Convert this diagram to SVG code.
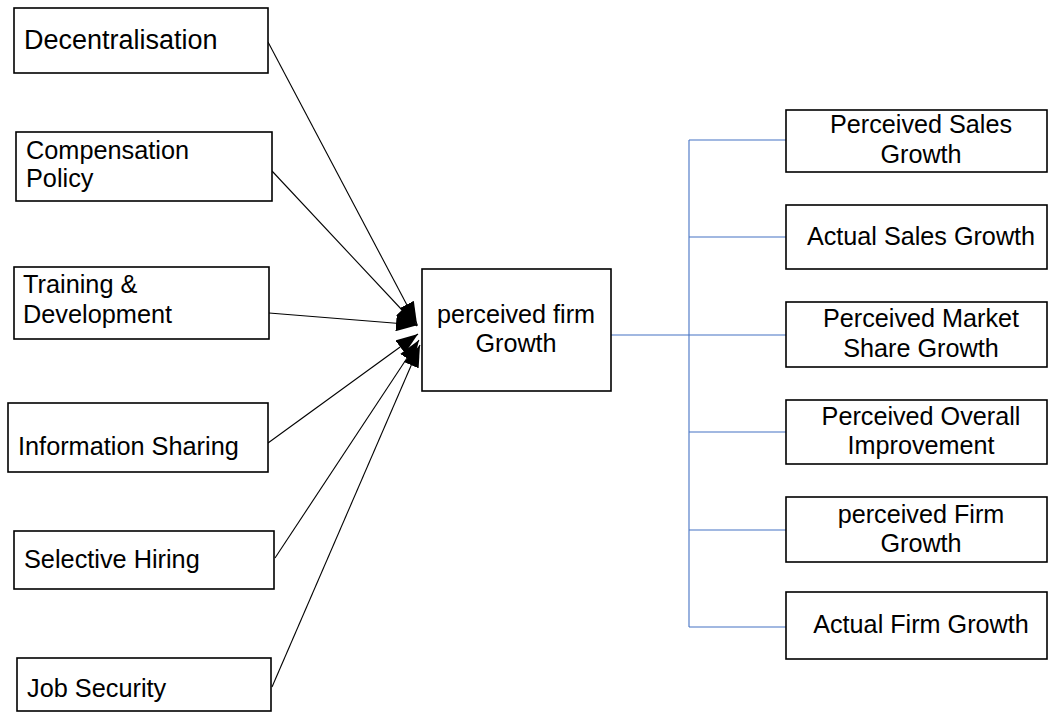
<svg xmlns="http://www.w3.org/2000/svg" width="1048" height="722" viewBox="0 0 1048 722">
<style>
.box{fill:#fff;stroke:#000;stroke-width:1.6}
.t{font-family:"Liberation Sans",Arial,sans-serif;font-size:25.3px;fill:#000}
.big{font-size:27px}
.r{font-family:"Liberation Sans",Arial,sans-serif;font-size:25.2px;fill:#000;text-anchor:middle}
.c{stroke:#000;stroke-width:1.1;fill:none}
.b{stroke:#4472C4;stroke-width:1.1;fill:none}
</style>
<defs>
<marker id="ah" viewBox="0 0 22 16" refX="22" refY="8" markerWidth="22" markerHeight="16" markerUnits="userSpaceOnUse" orient="auto">
<path d="M0,0 L22,8 L0,16 z" fill="#000"/>
</marker>
</defs>
<rect width="1048" height="722" fill="#fff"/>
<g id="connectors">
<line class="c" x1="268" y1="42" x2="417" y2="324" marker-end="url(#ah)"/>
<line class="c" x1="272" y1="171" x2="417" y2="326" marker-end="url(#ah)"/>
<line class="c" x1="269" y1="313" x2="418" y2="325" marker-end="url(#ah)"/>
<line class="c" x1="268" y1="443" x2="418" y2="334" marker-end="url(#ah)"/>
<line class="c" x1="275" y1="558" x2="419" y2="340" marker-end="url(#ah)"/>
<line class="c" x1="272" y1="687" x2="420" y2="345" marker-end="url(#ah)"/>
<line class="b" x1="611" y1="335" x2="689" y2="335"/>
<line class="b" x1="689" y1="140" x2="689" y2="627"/>
<line class="b" x1="689" y1="140" x2="786" y2="140"/>
<line class="b" x1="689" y1="237" x2="786" y2="237"/>
<line class="b" x1="689" y1="335" x2="786" y2="335"/>
<line class="b" x1="689" y1="432" x2="786" y2="432"/>
<line class="b" x1="689" y1="530" x2="786" y2="530"/>
<line class="b" x1="689" y1="627" x2="786" y2="627"/>
</g>
<g id="decentralisation"><rect class="box" x="14" y="8" width="254" height="65"/><text class="t big" x="24" y="49">Decentralisation</text></g>
<g id="compensation"><rect class="box" x="16" y="132" width="256" height="69"/><text class="t" x="26" y="159">Compensation</text><text class="t" x="26" y="187">Policy</text></g>
<g id="training"><rect class="box" x="14" y="267" width="255" height="72"/><text class="t" x="23" y="293">Training &amp;</text><text class="t" x="23" y="323">Development</text></g>
<g id="information"><rect class="box" x="8" y="403" width="260" height="69"/><text class="t" x="18" y="455">Information Sharing</text></g>
<g id="selective"><rect class="box" x="14" y="531" width="260" height="58"/><text class="t" x="24" y="568">Selective Hiring</text></g>
<g id="jobsecurity"><rect class="box" x="17" y="658" width="254" height="53"/><text class="t" x="27" y="697">Job Security</text></g>
<g id="center"><rect class="box" x="422" y="269" width="189" height="122"/><text class="r" x="516" y="323">perceived firm</text><text class="r" x="516" y="352">Growth</text></g>
<g id="perceived-sales"><rect class="box" x="786" y="110" width="261" height="62"/><text class="r" x="921" y="133">Perceived Sales</text><text class="r" x="921" y="163">Growth</text></g>
<g id="actual-sales"><rect class="box" x="786" y="205" width="261" height="64"/><text class="r" x="921" y="245">Actual Sales Growth</text></g>
<g id="market-share"><rect class="box" x="786" y="302" width="261" height="65"/><text class="r" x="921" y="327">Perceived Market</text><text class="r" x="921" y="357">Share Growth</text></g>
<g id="overall"><rect class="box" x="786" y="400" width="261" height="64"/><text class="r" x="921" y="425">Perceived Overall</text><text class="r" x="921" y="454">Improvement</text></g>
<g id="perceived-firm"><rect class="box" x="786" y="497" width="261" height="65"/><text class="r" x="921" y="523">perceived Firm</text><text class="r" x="921" y="552">Growth</text></g>
<g id="actual-firm"><rect class="box" x="786" y="592" width="261" height="67"/><text class="r" x="921" y="633">Actual Firm Growth</text></g>
</svg>
